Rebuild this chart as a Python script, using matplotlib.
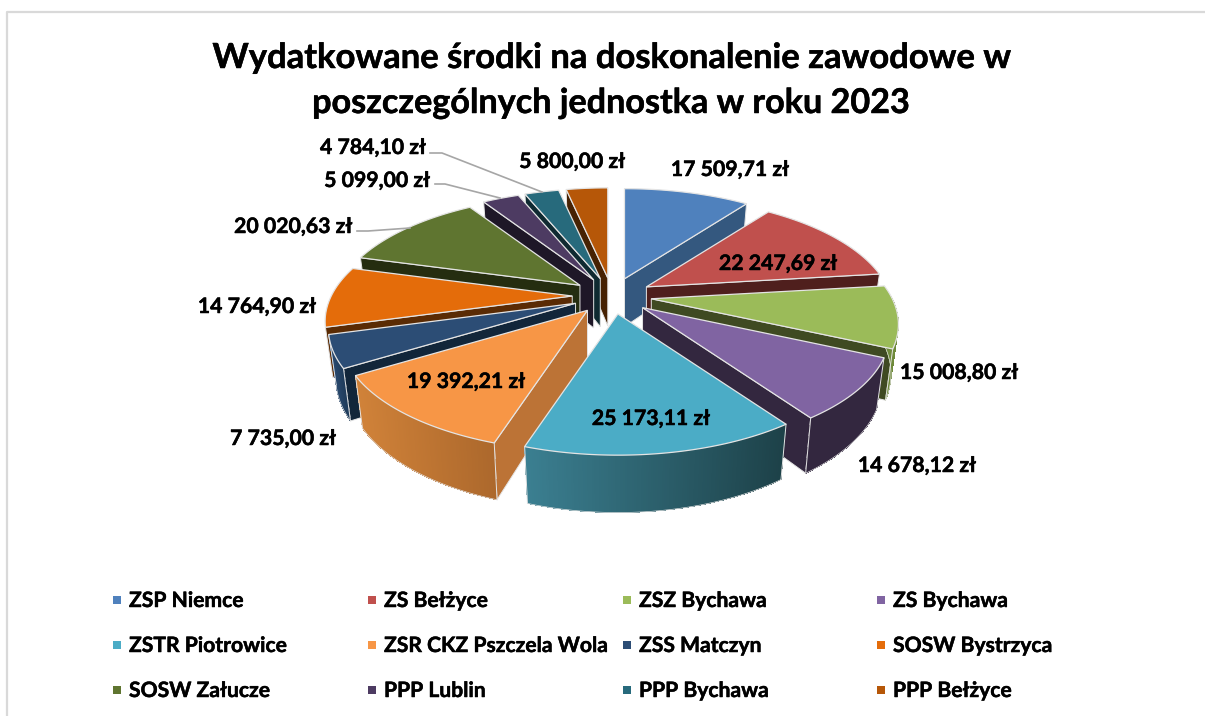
import numpy as np
import matplotlib
matplotlib.use("Agg")
import matplotlib.pyplot as plt
import matplotlib.patheffects as pe
from matplotlib.colors import to_rgb
from matplotlib.patches import Polygon, Rectangle

plt.rcParams['font.family'] = ['Lato', 'DejaVu Sans']

# data
names = ['ZSP Niemce', 'ZS Bełżyce', 'ZSZ Bychawa', 'ZS Bychawa',
         'ZSTR Piotrowice', 'ZSR CKZ Pszczela Wola', 'ZSS Matczyn', 'SOSW Bystrzyca',
         'SOSW Załucze', 'PPP Lublin', 'PPP Bychawa', 'PPP Bełżyce']
values = [17509.71, 22247.69, 15008.80, 14678.12,
          25173.11, 19392.21, 7735.00, 14764.90,
          20020.63, 5099.00, 4784.10, 5800.00]

# colours: top face, radial wall, outer wall left / right end of gradient
top_cols = ['#4F81BD', '#C0504D', '#9BBB59', '#8064A2', '#4BACC6', '#F79646',
            '#2C4D75', '#E46C0A', '#5F7530', '#4D3B62', '#276A7C', '#B65708']
side_cols = ['#34587F', '#4F1F1D', '#3F4A22', '#33273F', '#1F454D', '#BC7336',
             '#12263A', '#5A2B04', '#252D10', '#1E1727', '#0F2A31', '#472203']
rim_left = ['#34587F', '#4F1F1D', '#6F8A3B', '#33273F', '#3B7F91', '#D08239',
            '#2A4A70', '#5A2B04', '#252D10', '#1E1727', '#0F2A31', '#472203']
rim_right = ['#34587F', '#4F1F1D', '#6F8A3B', '#33273F', '#1D4148', '#AC682C',
             '#1E3A58', '#5A2B04', '#252D10', '#1E1727', '#0F2A31', '#472203']

# label centres, in figure pixels
label_pos = [(730, 170), (778, 264), (959, 373), (917, 466), (651, 419), (466, 382),
             (283, 439), (257, 307), (293, 227), (377, 181), (373, 148), (572, 162)]

# pie geometry
cx, cy = 612, 296
A, B, k = 241, 110, 0.221
explode = 0.165
depth = 48
shrink = 0.97
edge = '#E4E4E4'
draw_order = [0, 11, 10, 9, 8, 7, 6, 1, 2, 3, 5, 4]
bold = [pe.withStroke(linewidth=0.35, foreground='black')]


def rim(theta):
    s = 1 / (1 + k * np.cos(theta))
    return A * np.sin(theta) * s, -B * np.cos(theta) * s, s


def mix(c1, c2, t):
    c1, c2 = np.array(to_rgb(c1)), np.array(to_rgb(c2))
    return tuple(c1 + (c2 - c1) * t)


fig = plt.figure(figsize=(12.05, 7.16), dpi=100)
ax = fig.add_axes([0, 0, 1, 1])
ax.set_xlim(0, 1205)
ax.set_ylim(716, 0)
ax.axis('off')

# chart frame, cut off on the right and at the bottom
ax.plot([7, 7, 1205], [716, 12, 12], color='#D9D9D9', lw=1.6, zorder=1)

fracs = np.array(values) / sum(values)
edges = np.concatenate([[0], np.cumsum(fracs)]) * 2 * np.pi

z = 2
for i in draw_order:
    t0, t1 = edges[i], edges[i + 1]
    tm = (t0 + t1) / 2
    ax0 = cx + explode * A * np.sin(tm)
    ay0 = cy - explode * B * np.cos(tm)

    ts = np.linspace(t0, t1, 120)
    dx, dy, s = rim(ts)
    top_x, top_y = ax0 + dx, ay0 + dy
    bot_x, bot_y = ax0 + dx * shrink, ay0 + dy * shrink + depth * s

    # radial wall that faces the viewer
    if np.sin(t1) > 0.01 and np.sin(t0) >= -0.01 and np.cos(t1) > -0.9:
        j = -1
    elif np.sin(t0) < -0.01:
        j = 0
    else:
        j = None
    if j is not None:
        wall = [(ax0, ay0), (top_x[j], top_y[j]), (bot_x[j], bot_y[j]), (ax0, ay0 + depth)]
        ax.add_patch(Polygon(wall, fc=side_cols[i], ec=edge, lw=0.7, zorder=z))

    # outer wall, only the part turned to the front
    idx = np.where(np.cos(ts) < 0.02)[0]
    if len(idx) > 1 and np.cos(tm) < -0.1:
        xmin, xmax = top_x[idx].min(), top_x[idx].max()
        for a, b in zip(idx[:-1], idx[1:]):
            t = ((top_x[a] + top_x[b]) / 2 - xmin) / max(xmax - xmin, 1)
            col = mix(rim_left[i], rim_right[i], t)
            quad = [(top_x[a], top_y[a]), (top_x[b], top_y[b]),
                    (bot_x[b], bot_y[b]), (bot_x[a], bot_y[a])]
            ax.add_patch(Polygon(quad, fc=col, ec='none', antialiased=False, zorder=z))
        ax.plot(bot_x[idx], bot_y[idx], color=edge, lw=0.5, zorder=z)
        for e in (idx[0], idx[-1]):
            ax.plot([top_x[e], bot_x[e]], [top_y[e], bot_y[e]], color=edge, lw=0.7, zorder=z)

    # top face
    pts = np.column_stack([np.r_[ax0, top_x], np.r_[ay0, top_y]])
    ax.add_patch(Polygon(pts, fc=top_cols[i], ec=edge, lw=0.9, zorder=z))
    z += 1

# leader lines
lead_col = '#A6A6A6'
ax.plot([430, 442, 542], [153, 153, 192], color=lead_col, lw=1.2, zorder=20)
ax.plot([435, 445, 500], [184, 184, 198], color=lead_col, lw=1.2, zorder=20)
ax.plot([357, 368, 410], [231, 231, 228], color=lead_col, lw=1.2, zorder=20)

# data labels
for v, (x, y) in zip(values, label_pos):
    txt = f"{v:,.2f}".replace(',', ' ').replace('.', ',') + ' zł'
    ax.text(x, y, txt, fontsize=15.3, fontweight='bold', color='black',
            ha='center', va='center', zorder=30, path_effects=bold)

# title
ax.text(612, 58, 'Wydatkowane środki na doskonalenie zawodowe w', fontsize=24.9,
        fontweight='bold', ha='center', va='center', zorder=30, path_effects=bold)
ax.text(611, 103, 'poszczególnych jednostka w roku 2023', fontsize=24.6,
        fontweight='bold', ha='center', va='center', zorder=30, path_effects=bold)

# legend
col_x = [113, 368, 623, 877]
row_y = [600, 645, 690]
for i, name in enumerate(names):
    x = col_x[i % 4]
    y = row_y[i // 4]
    ax.add_patch(Rectangle((x, y - 4), 8, 8, fc=top_cols[i], ec='none', zorder=30))
    ax.text(x + 16, y + 1, name, fontsize=15.2, fontweight='bold', ha='left', va='center',
            zorder=30, path_effects=bold)

fig.savefig('out.png', dpi=100)
